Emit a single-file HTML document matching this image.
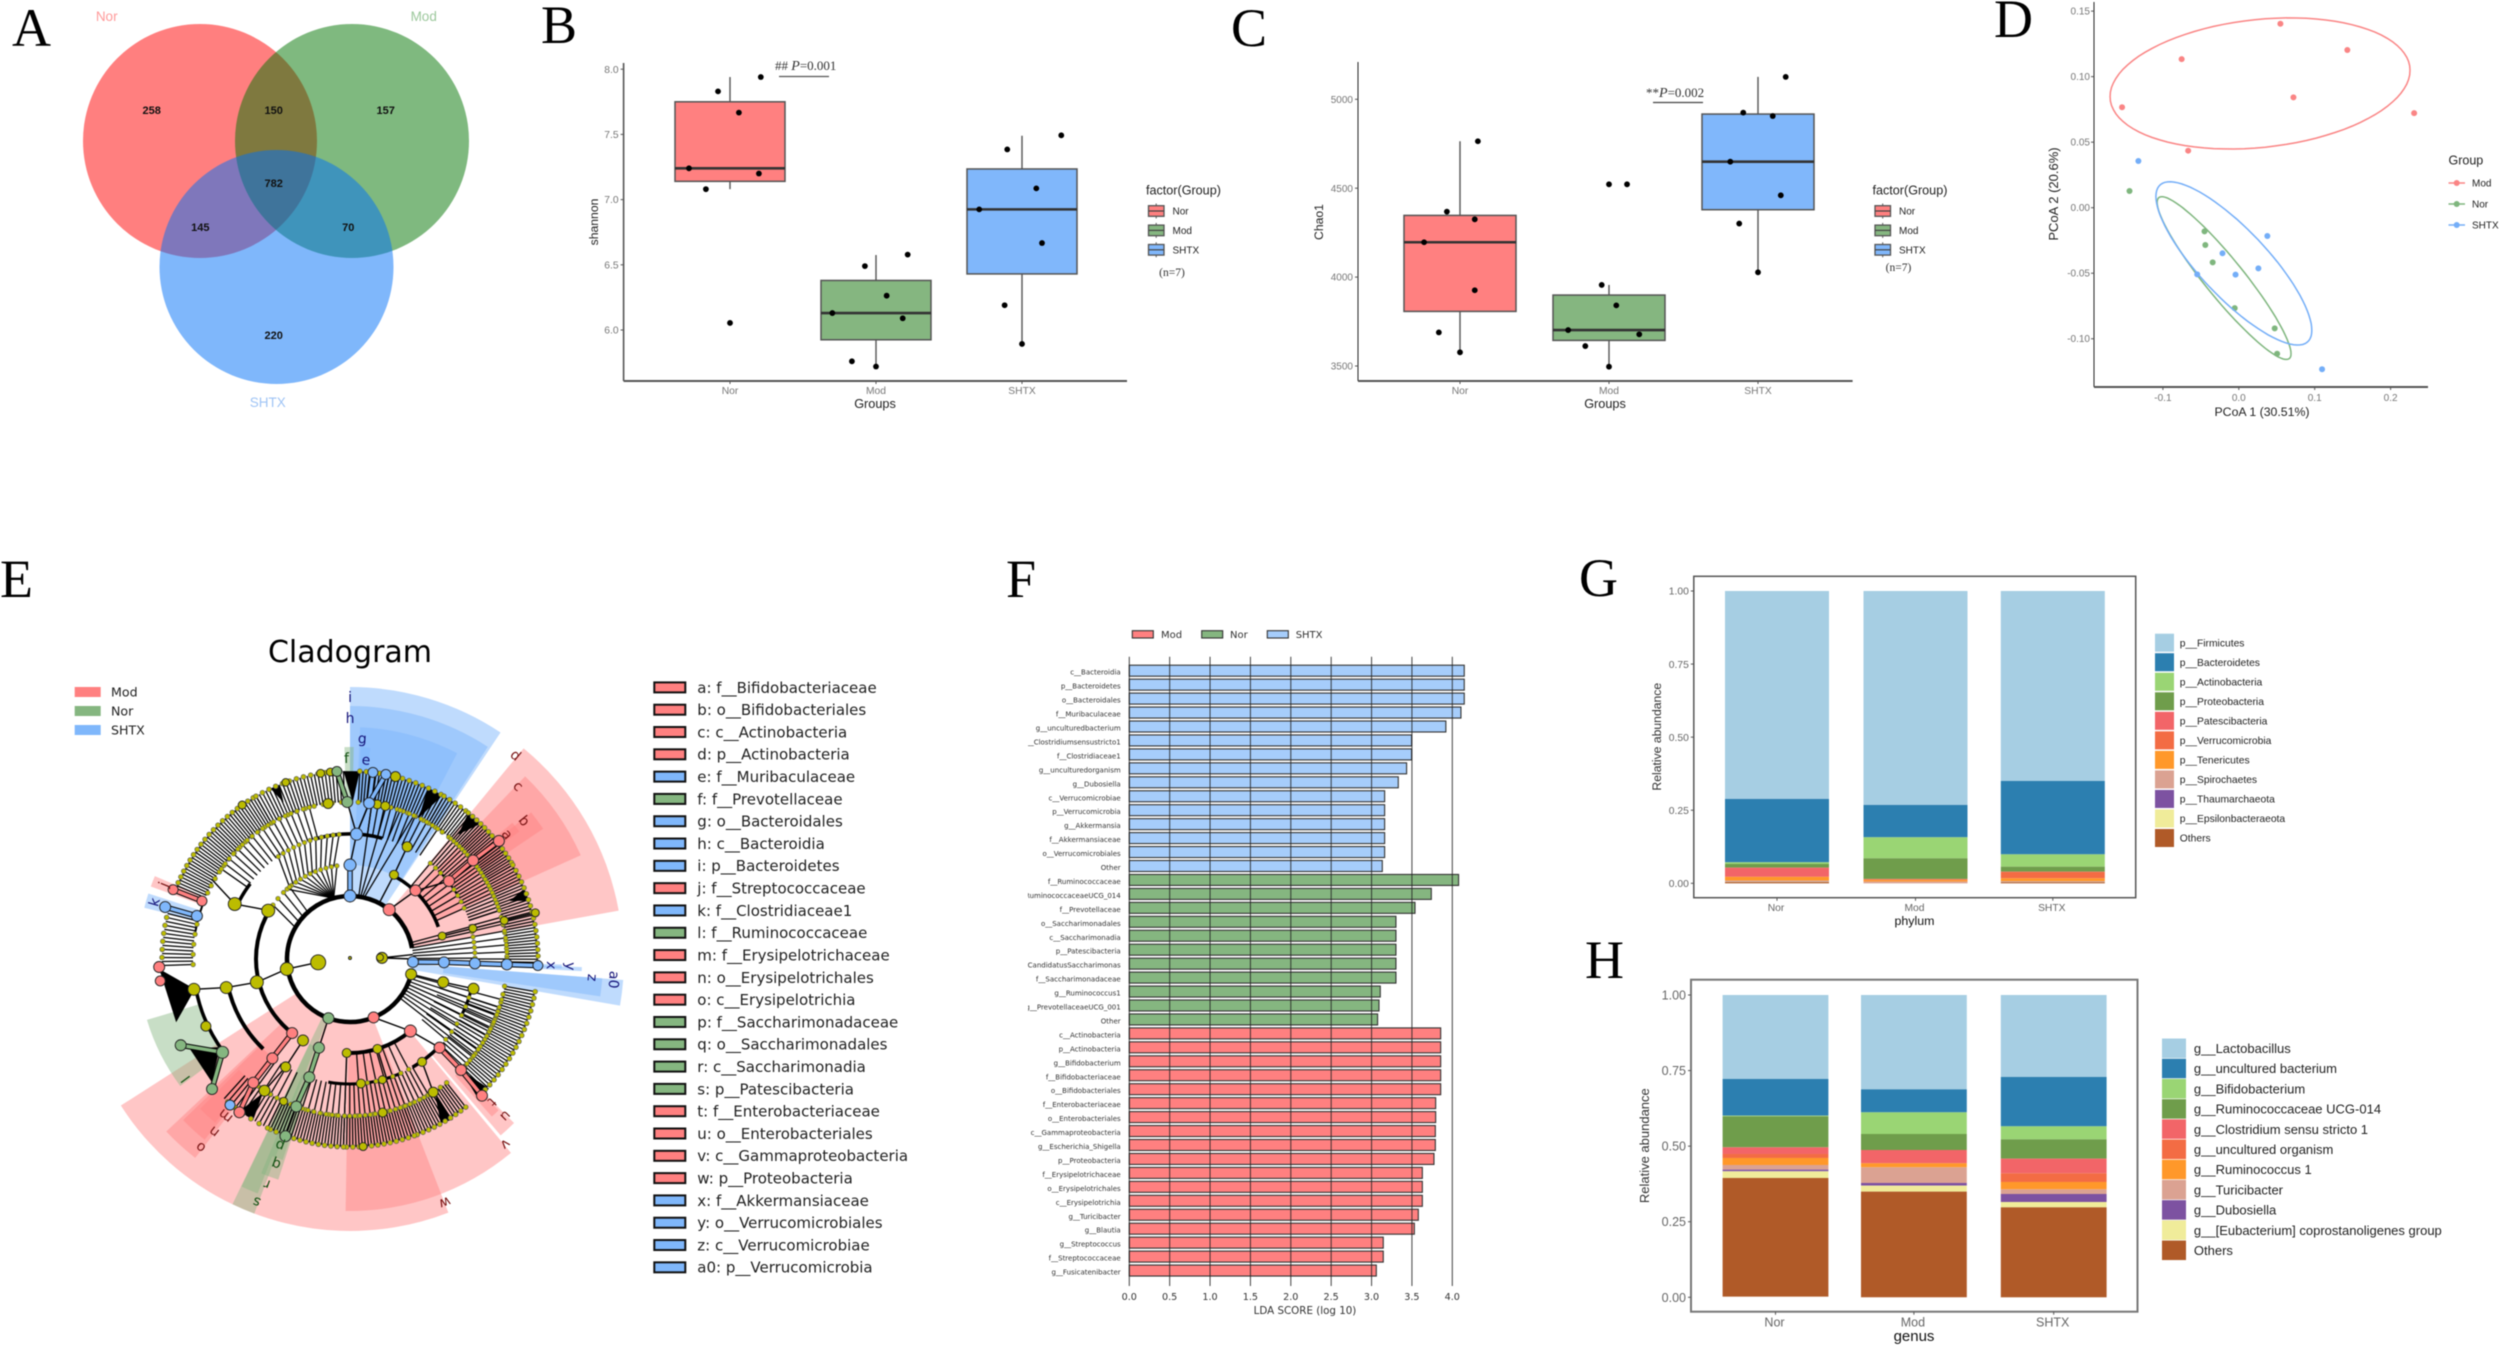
<!DOCTYPE html>
<html lang="en">
<head>
<meta charset="utf-8">
<title>Gut microbiota figure panels A-H</title>
<style>
html,body{margin:0;padding:0;background:#fff;}
body{width:2500px;height:1345px;overflow:hidden;}
svg{display:block;filter:blur(0.5px);}
.serif{font-family:"Liberation Serif",serif;}
.sans{font-family:"Liberation Sans",sans-serif;}
.dv{font-family:"DejaVu Sans",sans-serif;}
.letter{font-family:"Liberation Serif",serif;font-size:54px;fill:#000;}
</style>
</head>
<body>
<svg id="figure" xmlns="http://www.w3.org/2000/svg" width="2500" height="1345" viewBox="0 0 2500 1345">
<rect x="0" y="0" width="2500" height="1345" fill="#fff"/>

<text class="letter" x="12" y="46">A</text>
<text class="letter" x="541" y="43">B</text>
<text class="letter" x="1231" y="46">C</text>
<text class="letter" x="1994" y="37">D</text>
<text class="letter" x="0" y="597">E</text>
<text class="letter" x="1006" y="597">F</text>
<text class="letter" x="1579" y="596">G</text>
<text class="letter" x="1585" y="978">H</text>

<g>
  <circle cx="200" cy="141" r="117" fill="#ff0000" fill-opacity="0.5"/>
  <circle cx="352" cy="141" r="117" fill="#007400" fill-opacity="0.5"/>
  <circle cx="276.5" cy="267" r="117" fill="#0070f8" fill-opacity="0.5"/>
  <g class="sans" font-size="13.5" text-anchor="middle">
    <text x="106.7" y="21" fill="#ff9a9a">Nor</text>
    <text x="423.7" y="21" fill="#9cc89c">Mod</text>
    <text x="267.7" y="407" fill="#9fc4f5">SHTX</text>
  </g>
  <g class="sans" font-size="11" font-weight="bold" text-anchor="middle" fill="#111">
    <text x="151.7" y="114">258</text>
    <text x="273.7" y="114">150</text>
    <text x="385.7" y="114">157</text>
    <text x="273.7" y="187">782</text>
    <text x="200.3" y="231">145</text>
    <text x="348.3" y="231">70</text>
    <text x="273.7" y="339">220</text>
  </g>
</g>

<g id="panel-b">
  <text class="serif" x="775" y="70" font-size="13" fill="#333">## <tspan font-style="italic" font-size="14">P</tspan>=0.001</text>
  <line x1="779" x2="829" y1="76.5" y2="76.5" stroke="#555" stroke-width="1.3"/>
</g>
<g id="panel-c">
  <text class="serif" x="1646" y="97" font-size="13" fill="#333">**<tspan font-style="italic" font-size="14">P</tspan>=0.002</text>
  <line x1="1653" x2="1703" y1="102.5" y2="102.5" stroke="#444" stroke-width="1.3"/>
</g>
<g id="panel-d"></g>
<g id="panel-e"></g>
<g id="panel-e-legend"></g>
<g id="panel-f"></g>
<g id="panel-g"></g>
<g id="panel-h"></g>
</svg>

<script>
// ---------- Panel B data ----------
const groupNames = ['Nor', 'Mod', 'SHTX'];
const groupFills = ['#ff8080', '#85b680', '#80b7fb'];
const shannonTicks = [6.0, 6.5, 7.0, 7.5, 8.0];
const shannonQ1 = [7.14, 5.925, 6.43];
const shannonMedian = [7.24, 6.13, 6.925];
const shannonQ3 = [7.75, 6.38, 7.235];
const shannonLow = [7.08, 5.72, 5.89];
const shannonHigh = [7.94, 6.575, 7.49];
const shannonPointGroup = [0.719, 0.835, 0.918, 1.061, 1.198, 1.211, 1.0, 1.701, 1.835, 1.924, 2.0, 2.073, 2.183, 2.217, 2.707, 2.881, 2.899, 3.0, 3.098, 3.137, 3.269];
const shannonPointValue = [7.24, 7.08, 7.83, 7.667, 7.2, 7.94, 6.054, 6.13, 5.76, 6.49, 5.72, 6.263, 6.09, 6.578, 6.925, 6.19, 7.385, 5.893, 7.086, 6.667, 7.493];

// ---------- Panel C data ----------
const chaoTicks = [3500, 4000, 4500, 5000];
const chaoQ1 = [3807, 3644, 4379];
const chaoMedian = [4196, 3702, 4649];
const chaoQ3 = [4347, 3899, 4917];
const chaoLow = [3577, 3496, 4027];
const chaoHigh = [4764, 3956, 5126];
const chaoPointGroup = [0.759, 0.858, 0.912, 1.0, 1.099, 1.099, 1.12, 1.726, 1.841, 1.951, 2.0, 2.0, 2.049, 2.121, 2.203, 2.814, 2.874, 2.901, 3.0, 3.099, 3.153, 3.186];
const chaoPointValue = [4196, 3689, 4368, 3577, 4325, 3926, 4764, 3702, 3612, 3956, 3496, 4522, 3841, 4522, 3678, 4649, 4301, 4925, 4027, 4906, 4460, 5126];

// ---------- Panel D data ----------
const pcoaGroups = ['Mod', 'Nor', 'SHTX'];
const pcoaColors = ['#fa8585', '#7fb67e', '#74aef8'];
const pcoaXTicks = [-0.1, 0.0, 0.1, 0.2];
const pcoaYTicks = [-0.10, -0.05, 0.00, 0.05, 0.10, 0.15];
const pcoaModX = [-0.1538, -0.0753, -0.0667, 0.0548, 0.072, 0.143, 0.231];
const pcoaModY = [0.0766, 0.1134, 0.0435, 0.1404, 0.0842, 0.1203, 0.0722];
const pcoaNorX = [-0.144, -0.0452, -0.0441, -0.0344, -0.0054, 0.0473, 0.0505];
const pcoaNorY = [0.0127, -0.0181, -0.0285, -0.0417, -0.0766, -0.0921, -0.1114];
const pcoaShtxX = [-0.1323, 0.0376, -0.0215, 0.0258, -0.0043, -0.0548, 0.1097];
const pcoaShtxY = [0.0356, -0.0216, -0.0348, -0.0463, -0.0511, -0.0509, -0.1233];
const ellipseCenterX = [0.028, -0.0194, -0.0065];
const ellipseCenterY = [0.0948, -0.0537, -0.0425];
const ellipseSpreadX = [0.1976, 0.0882, 0.1027];
const ellipseSpreadY = [0.05, 0.0621, 0.0623];
const ellipseCorr = [0.2, -0.93, -0.82];

// ---------- Panel E data (angles clockwise from north, radii in ring units) ----------
const cladeSectors = [
  ['i', 63, 272, 0, 33.6, 'b'], ['h', 94, 253, 0, 33, 'b'], ['g', 125, 232, 2.5, 27.5, 'b'], ['e', 157, 212, 3, 5.5, 'b'],
  ['f', 157, 212, -1.5, 1, 'g'],
  ['d', 63, 273, 39.5, 79.8, 'r'], ['c', 94, 253, 43.8, 65.8, 'r'], ['b', 125, 233, 51, 56, 'r'], ['a', 157, 212, 50, 53, 'r'],
  ['a0', 63, 274, 94.4, 99.8, 'b'], ['z', 94, 253, 94.4, 98.5, 'b'], ['y', 125, 232, 92, 93, 'b'], ['x', 157, 212, 91.5, 92.5, 'b'],
  ['w', 63, 272, 158.8, 205.6, 'r'], ['w2', 63, 272, 205.6, 237.4, 'r'], ['v', 94, 252, 140.3, 181, 'r'],
  ['u', 126, 232, 135, 139.5, 'r'], ['t', 157, 212, 135.5, 138, 'r'],
  ['s', 63, 272, 200.6, 205.6, 'g'], ['r', 94, 252, 201.5, 205.5, 'g'], ['q', 125, 232, 198, 202.5, 'g'], ['p', 157, 212, 198.5, 201.5, 'g'],
  ['o', 94, 252, 217.9, 226.8, 'r'], ['n', 125, 232, 218.8, 226, 'r'], ['m', 157, 212, 219.5, 225, 'r'],
  ['l', 157, 212, 233.2, 253.3, 'g'], ['k', 157, 212, 284, 288, 'b'], ['j', 157, 212, 290, 293, 'r']
];
const cladeArcs = [
  [63, 104, 440, 4.5], [94, 218, 301, 4], [94, 25, 70, 3.5], [94, 140, 182, 4],
  [125, 224, 258, 4], [125, 295, 307, 3.5], [125, 345, 375, 3.5], [125, 103, 118, 3], [125, 135, 150, 3.5], [125, 155, 190, 3], [125, 45, 60, 2],
  [157, 233, 259, 3.5], [157, 48, 55, 2], [157, 280, 293, 2]
];
const cladeFans = [
  [157,188,3,12,3,12,10],[157,188,12,30,12,30,18],[157,188,30,38,30,38,9],[157,188,39,60,39,60,26],[157,188,60,92,60,92,34],
  [157,188,100,135,100,135,36],[157,188,142,160,142,160,20],[157,188,160,182,160,182,24],[157,188,182,206,182,206,26],[157,188,206,222,206,222,12],
  [157,188,268,284,268,284,14],[157,188,292,330,292,330,40],[157,188,330,358,330,358,26],
  [125,157,305,345,305,345,18],[125,157,8,34,8,34,12],[125,157,40,72,40,72,24],[125,157,72,90,72,90,8],[125,157,108,135,108,135,18],
  [125,157,150,182,150,182,18],[125,157,182,200,182,200,9],[125,157,205,216,205,216,5],
  [94,125,320,350,325,355,12],[94,125,40,66,40,66,9],[94,125,152,176,152,176,7],[94,125,108,130,108,130,6],
  [63,94,345,345,318,352,11],[63,157,8,13,8,24,4],[63,125,75,92,75,92,8],[63,157,105,128,105,128,9],[63,94,300,318,305,320,4]
];
const cladeWedges = [
  [[191,267],[158,259],[185,250]], [[183.6,240.6],[157,235.9],[185,228.3]], [[157,26],[188,24.5],[188,29.5]],
  [[161,148],[191,147.4],[187,151]], [[157,135],[190,133],[190,137.5]], [[160,213],[188,211],[188,216]],
  [[157,1],[188,-2],[188,3]], [[170,337],[188,335],[188,338]], [[170,70],[188,68],[188,72]], [[165,41],[188,39],[188,44]]
];
const cladeLinks = [
  [32,264,64,261,'k'],[64,261,96,256,'k'],[96,256,127,257,'k'],[127,257,159,259,'k'],[96,300.6,127.7,295.5,'k'],[127.7,295.5,160,300,'k'],
  [32,88,63,86,'k'],[32,88,63,90,'k'],[95,76,191,76,'k'],[63,27.6,95,27.6,'k'],[95,27.6,126,27,'k'],[125,3,157,7,'k'],
  [63,104,96,104,'k'],[96,104,127,103.5,'k'],[94,182,125,182,'k'],[94,163,125,163,'k'],[94,210,125.6,210.8,'k'],[125.6,210.8,157,213,'k'],
  [125.6,145,157,148,'k'],[63,0,94,0,'b'],[94,0,125,3,'k'],[125,3,157,7,'k'],[157,7,188,7,'b'],[157,7,188,11,'b'],[157,-1,188,-4,'g'],[125,3,157,-1,'k'],
  [63,38.5,94,43.7,'k'],[94,43.7,126,51.8,'k'],[126,51.8,157,51.3,'r'],[157,51.3,190,51.6,'r'],
  [63,92.7,94,92,'b'],[94,92,125,92,'b'],[125,92,157,92,'b'],[157,92,188,92,'b'],
  [159,285.7,192,285.7,'b'],[159,291.4,190,291.4,'r'],
  [158,233.8,190,243,'g'],[158,233.8,189.6,226.7,'g'],[94,218,126,218,'r'],[126,218,157,218,'r'],[157,218,189,215.8,'r'],
  [63,200,94,199.3,'k'],[94,199.3,125,199,'g'],[125,199,157,200,'g'],[157,200,188.6,200,'k'],
  [63,158,94,140,'k'],[94,140,126,134.7,'k'],[126,134.7,157,135,'r'],[157,135,190,136,'r']
];
const cladeNodes = [
  [1,0,1.5,'o'],[32,264,7.5,'o'],[64,261,6.5,'o'],[96,256,6.5,'o'],[127,257,6,'o'],[159,259,6,'o'],[127.7,295.5,6.5,'o'],[95,300.6,6.5,'o'],
  [32,88,5.5,'o'],[30,87,3.5,'o'],[63,104,5.5,'o'],[96,104,5.5,'o'],[127,103.5,5.5,'o'],[126,27,5,'o'],[95,27.6,4.5,'o'],
  [94,182,4.5,'o'],[94,163,4.5,'o'],[94,210,5.5,'o'],[125.6,210.8,5,'o'],[157,213,5.5,'o'],[125.6,145,4.5,'o'],[157,148,5,'o'],[159,245,5,'o'],
  [95,76,4,'o'],[126.6,76,4,'o'],[159,76,4,'o'],[191,76,4,'o'],[188,14,5,'o'],[188,-6,4,'o'],[188,-9,4,'o'],[157,-8,5,'o'],[157,10,4.5,'o'],[157,13,4.5,'o'],
  [188,340,3.8,'o'],[188,325,4,'o'],[157,205,4,'o'],[188,176,4,'o'],[157,168,4.5,'o'],[125,175,4.5,'o'],[125,165,4,'o'],
  [63,0,6,'b'],[94,0,6,'b'],[125,3,6,'b'],[157,7,5.5,'b'],[188,7,5,'b'],[188,11,5,'b'],
  [157,-1,5.5,'g'],[188,-4,5,'g'],
  [63,38.5,6,'r'],[94.8,43.7,5.5,'r'],[126,51.8,5.5,'r'],[157.7,51.3,5.5,'r'],[190,51.6,5.5,'r'],
  [63,92.7,5.5,'b'],[94,92,5.5,'b'],[125,92,5.5,'b'],[157,92,5.5,'b'],[188,92,5,'b'],
  [159,285.7,5.5,'b'],[192,285.7,5.5,'b'],[159,291.4,5,'r'],[190,291.4,5,'r'],
  [191,267.6,5.5,'r'],[191,263.4,5,'r'],
  [158,233.8,6,'g'],[190,243,5.5,'g'],[189.6,226.7,5.5,'g'],
  [94,218,5.5,'r'],[126,218,5.5,'r'],[157,218,5.5,'r'],[189,215.8,5.5,'r'],[189,219.4,5,'b'],
  [63,200,5.5,'g'],[94,199.3,5.5,'g'],[125,199,5.5,'g'],[157,200,5.5,'g'],[188.6,200,5.5,'g'],
  [63,158,5.5,'r'],[94,140,6,'r'],[126,134.7,5.5,'r'],[157,135,5.5,'r'],[190,136,5.5,'r']
];
const cladeLetters = [
  ['i',261,0,'b'],['h',240,0,'b'],['g',220,3.2,'b'],['e',199,4.6,'b'],['f',200,-1,'g'],['d',262,39.1,'r'],['c',240.6,44.2,'r'],['b',221.7,51.6,'r'],['a',200,51.6,'r'],
  ['j',200,291.8,'r'],['k',203,286.2,'b'],['l',202.7,233.8,'g'],['m',200,218.4,'r'],['n',219.5,218.2,'r'],['o',240,218.4,'r'],
  ['p',198.7,200.6,'g'],['q',217.8,199.8,'g'],['r',239.7,200.2,'g'],['s',260,201,'g'],['t',201,135.2,'r'],['u',220.8,135.3,'r'],['v',241.5,140,'r'],['w',261,158.7,'r'],
  ['x',201,91.8,'b'],['y',220,91.9,'b'],['z',242.5,94.4,'b'],['a0',264,94.5,'b']
];
const cladeLegendNames = ['Mod', 'Nor', 'SHTX'];
const taxaNames = ['a: f__Bifidobacteriaceae','b: o__Bifidobacteriales','c: c__Actinobacteria','d: p__Actinobacteria','e: f__Muribaculaceae','f: f__Prevotellaceae','g: o__Bacteroidales','h: c__Bacteroidia','i: p__Bacteroidetes','j: f__Streptococcaceae','k: f__Clostridiaceae1','l: f__Ruminococcaceae','m: f__Erysipelotrichaceae','n: o__Erysipelotrichales','o: c__Erysipelotrichia','p: f__Saccharimonadaceae','q: o__Saccharimonadales','r: c__Saccharimonadia','s: p__Patescibacteria','t: f__Enterobacteriaceae','u: o__Enterobacteriales','v: c__Gammaproteobacteria','w: p__Proteobacteria','x: f__Akkermansiaceae','y: o__Verrucomicrobiales','z: c__Verrucomicrobiae','a0: p__Verrucomicrobia'];
const taxaGroups = ['r','r','r','r','b','g','b','b','b','r','b','g','r','r','r','g','g','g','g','r','r','r','r','b','b','b','b'];

// ---------- Panel F data ----------
const ldaTicks = [0, 0.5, 1.0, 1.5, 2.0, 2.5, 3.0, 3.5, 4.0];
const ldaLegend = ['Mod', 'Nor', 'SHTX'];
const ldaNames = ['c__Bacteroidia','p__Bacteroidetes','o__Bacteroidales','f__Muribaculaceae','g__unculturedbacterium','g__Clostridiumsensustricto1','f__Clostridiaceae1','g__unculturedorganism','g__Dubosiella','c__Verrucomicrobiae','p__Verrucomicrobia','g__Akkermansia','f__Akkermansiaceae','o__Verrucomicrobiales','Other',
'f__Ruminococcaceae','g__RuminococcaceaeUCG_014','f__Prevotellaceae','o__Saccharimonadales','c__Saccharimonadia','p__Patescibacteria','g__CandidatusSaccharimonas','f__Saccharimonadaceae','g__Ruminococcus1','g__PrevotellaceaeUCG_001','Other',
'c__Actinobacteria','p__Actinobacteria','g__Bifidobacterium','f__Bifidobacteriaceae','o__Bifidobacteriales','f__Enterobacteriaceae','o__Enterobacteriales','c__Gammaproteobacteria','g__Escherichia_Shigella','p__Proteobacteria','f__Erysipelotrichaceae','o__Erysipelotrichales','c__Erysipelotrichia','g__Turicibacter','g__Blautia','g__Streptococcus','f__Streptococcaceae','g__Fusicatenibacter'];
const ldaValues = [4.148,4.148,4.148,4.107,3.92,3.496,3.496,3.434,3.331,3.162,3.162,3.162,3.162,3.162,3.133,
4.078,3.74,3.538,3.302,3.302,3.302,3.302,3.302,3.108,3.092,3.075,
3.856,3.856,3.856,3.856,3.856,3.794,3.794,3.79,3.79,3.773,3.629,3.629,3.629,3.579,3.53,3.145,3.145,3.059];
const ldaGroups = ['b','b','b','b','b','b','b','b','b','b','b','b','b','b','b','g','g','g','g','g','g','g','g','g','g','g','r','r','r','r','r','r','r','r','r','r','r','r','r','r','r','r','r','r'];

// ---------- Panels G / H data ----------
const stackColors = ['#a6cee3','#2c7fb0','#9ad574','#6f9d4b','#f26568','#f36c44','#ff982a','#dba292','#7d52a1','#f0ec9a','#b05a28'];
const abundanceTicks = [0, 0.25, 0.5, 0.75, 1.0];
const phylumNames = ['p__Firmicutes','p__Bacteroidetes','p__Actinobacteria','p__Proteobacteria','p__Patescibacteria','p__Verrucomicrobia','p__Tenericutes','p__Spirochaetes','p__Thaumarchaeota','p__Epsilonbacteraeota','Others'];
const phylumNor = [0.7115,0.2167,0.0057,0.0125,0.0308,0.001,0.0125,0.003,0.001,0.001,0.0043];
const phylumMod = [0.732,0.1106,0.0718,0.0707,0.001,0.003,0.005,0.006,0,0,0];
const phylumShtx = [0.65,0.2509,0.0422,0.0171,0.001,0.0217,0.0103,0.001,0.001,0.001,0.0038];
const genusNames = ['g__Lactobacillus','g__uncultured bacterium','g__Bifidobacterium','g__Ruminococcaceae UCG-014','g__Clostridium sensu stricto 1','g__uncultured organism','g__Ruminococcus 1','g__Turicibacter','g__Dubosiella','g__[Eubacterium] coprostanoligenes group','Others'];
const genusNor = [0.2778,0.1213,0.0022,0.1025,0.0221,0.0132,0.0232,0.0154,0.0055,0.0221,0.3925];
const genusMod = [0.312,0.0761,0.0717,0.0529,0.043,0.0011,0.0132,0.0518,0.0088,0.0198,0.3495];
const genusShtx = [0.2712,0.1632,0.043,0.0639,0.0485,0.0287,0.0243,0.0154,0.0265,0.0176,0.2977];

// ---------- Helpers ----------
const NS = 'http://www.w3.org/2000/svg';
function add(parent, tag, attrs, text) {
  const node = document.createElementNS(NS, tag);
  for (const k in attrs) node.setAttribute(k, attrs[k]);
  if (text !== undefined) node.textContent = text;
  parent.appendChild(node);
  return node;
}
const SANS = '"Liberation Sans",sans-serif';
const DEJAVU = '"DejaVu Sans",sans-serif';
const SERIF = '"Liberation Serif",serif';

// ---------- Boxplots ----------
function drawBoxPanel(g, c) {
  const xPos = v => c.x0 + (v - 1) * c.step;
  const yPos = c.y;
  let m = add(g, 'line', {x1: c.axisX, x2: c.axisX, y1: c.axisTop, y2: c.axisBottom, stroke: c.yAxisColor, 'stroke-width': c.yAxisWidth});
  
  
  m = add(g, 'line', {x1: c.axisX, x2: c.axisRight, y1: c.axisBottom, y2: c.axisBottom, stroke: '#555', 'stroke-width': 2});
  
  
  c.ticks.forEach(t => {
    const ty = yPos(t);
    const tk = add(g, 'line', {x1: c.axisX - 3, x2: c.axisX, y1: ty, y2: ty, stroke: '#555', 'stroke-width': 1});
    
    
    const lb = add(g, 'text', {x: c.axisX - 5, y: ty + 3.6, 'text-anchor': 'end', 'font-family': SANS, 'font-size': c.tickSize, fill: '#777'}, c.format(t));
    
    
  });
  groupNames.forEach((name, i) => {
    const cx = xPos(i + 1);
    const wk = add(g, 'line', {x1: cx, x2: cx, y1: yPos(c.high[i]), y2: yPos(c.low[i]), stroke: '#555', 'stroke-width': 1.4});
    
    
    const box = add(g, 'rect', {x: cx - c.half, y: yPos(c.q3[i]), width: 2 * c.half, height: yPos(c.q1[i]) - yPos(c.q3[i]), fill: groupFills[i], stroke: '#555', 'stroke-width': 1.5});
    
    
    const md = add(g, 'line', {x1: cx - c.half, x2: cx + c.half, y1: yPos(c.median[i]), y2: yPos(c.median[i]), stroke: '#333', 'stroke-width': 2.6});
    
    
    const tk = add(g, 'line', {x1: cx, x2: cx, y1: c.axisBottom, y2: c.axisBottom + 3, stroke: '#555', 'stroke-width': 1});
    
    
    const lb = add(g, 'text', {x: cx, y: c.axisBottom + 13, 'text-anchor': 'middle', 'font-family': SANS, 'font-size': 10.3, fill: '#777'}, name);
    
    
  });
  c.pointGroup.forEach((pg, i) => {
    const p = add(g, 'circle', {cx: xPos(pg), cy: yPos(c.pointValue[i]), r: 2.9, fill: '#000'});
    
    
  });
  let t = add(g, 'text', {x: c.xTitleX, y: 408, 'text-anchor': 'middle', 'font-family': SANS, 'font-size': 12.7, fill: '#222'}, 'Groups');
  
  
  t = add(g, 'text', {x: 0, y: 0, transform: 'translate(' + c.yTitleX + ',' + c.yTitleY + ') rotate(-90)', 'text-anchor': 'middle', 'font-family': SANS, 'font-size': 12.2, fill: '#222'}, c.yTitle);
  
  
  t = add(g, 'text', {x: c.legendX - 2.5, y: 194.5, 'font-family': SANS, 'font-size': 12.6, fill: '#222'}, 'factor(Group)');
  
  
  groupNames.forEach((name, i) => {
    const ky = 211 + i * 19.4;
    const st = add(g, 'line', {x1: c.legendX + 7.7, x2: c.legendX + 7.7, y1: ky - 7.5, y2: ky + 7.5, stroke: '#555', 'stroke-width': 1});
    
    
    const kb = add(g, 'rect', {x: c.legendX, y: ky - 5.3, width: 15.5, height: 10.6, fill: groupFills[i], stroke: '#555', 'stroke-width': 1.3});
    
    
    const kl = add(g, 'line', {x1: c.legendX, x2: c.legendX + 15.5, y1: ky, y2: ky, stroke: '#444', 'stroke-width': 1.2});
    
    
    const lt = add(g, 'text', {x: c.legendX + 24, y: ky + 3.6, 'font-family': SANS, 'font-size': 10, fill: '#222'}, name);
    
    
  });
  t = add(g, 'text', {x: c.legendX + 23.5, y: c.nY, 'text-anchor': 'middle', 'font-family': SERIF, 'font-size': 11.5, fill: '#333'}, '(n=7)');
  
  
}
const shannonY = v => 330 - (v - 6) * 130.4;
const chaoY = v => 366 - (v - 3500) * 0.1778;
drawBoxPanel(document.getElementById('panel-b'), {id: 'shannon', x0: 730, step: 146, half: 55, y: shannonY, ticks: shannonTicks, format: v => v.toFixed(1), tickSize: 10.3,
  axisX: 623.6, axisTop: 63, axisBottom: 381, axisRight: 1127, yAxisColor: '#555', yAxisWidth: 1.6,
  q1: shannonQ1, median: shannonMedian, q3: shannonQ3, low: shannonLow, high: shannonHigh, pointGroup: shannonPointGroup, pointValue: shannonPointValue,
  xTitleX: 875, yTitleX: 598, yTitleY: 222, yTitle: 'shannon', legendX: 1148.5, nY: 276});
drawBoxPanel(document.getElementById('panel-c'), {id: 'chao1', x0: 1460, step: 149, half: 56, y: chaoY, ticks: chaoTicks, format: v => String(v), tickSize: 10,
  axisX: 1358, axisTop: 62, axisBottom: 381, axisRight: 1852.6, yAxisColor: '#222', yAxisWidth: 1,
  q1: chaoQ1, median: chaoMedian, q3: chaoQ3, low: chaoLow, high: chaoHigh, pointGroup: chaoPointGroup, pointValue: chaoPointValue,
  xTitleX: 1605, yTitleX: 1323, yTitleY: 222, yTitle: 'Chao1', legendX: 1875, nY: 271});

// ---------- PCoA ----------
(function () {
  const g = document.getElementById('panel-d');
  const px = v => 2238.8 + v * 759;
  const py = v => 207.7 - v * 1310.6;
  let m = add(g, 'line', {x1: 2094, x2: 2094, y1: 2, y2: 387, stroke: '#222', 'stroke-width': 1});
  
  
  m = add(g, 'line', {x1: 2094, x2: 2428, y1: 387, y2: 387, stroke: '#555', 'stroke-width': 2});
  
  
  pcoaYTicks.forEach(t => {
    const tk = add(g, 'line', {x1: 2091, x2: 2094, y1: py(t), y2: py(t), stroke: '#555', 'stroke-width': 1});
    
    
    const lb = add(g, 'text', {x: 2090, y: py(t) + 3.4, 'text-anchor': 'end', 'font-family': SANS, 'font-size': 10, fill: '#777'}, t.toFixed(2));
    
    
  });
  pcoaXTicks.forEach(t => {
    const tk = add(g, 'line', {x1: px(t), x2: px(t), y1: 387, y2: 390, stroke: '#555', 'stroke-width': 1});
    
    
    const lb = add(g, 'text', {x: px(t), y: 401, 'text-anchor': 'middle', 'font-family': SANS, 'font-size': 10, fill: '#777'}, t.toFixed(1));
    
    
  });
  const xs = [pcoaModX, pcoaNorX, pcoaShtxX];
  const ys = [pcoaModY, pcoaNorY, pcoaShtxY];
  pcoaGroups.forEach((name, i) => {
    let d = '';
    for (let k = 0; k <= 90; k++) {
      const a = k / 90 * 2 * Math.PI;
      const ex = ellipseCenterX[i] + ellipseSpreadX[i] * Math.cos(a);
      const ey = ellipseCenterY[i] + ellipseSpreadY[i] * (ellipseCorr[i] * Math.cos(a) + Math.sqrt(1 - ellipseCorr[i] * ellipseCorr[i]) * Math.sin(a));
      d += (k ? 'L' : 'M') + px(ex).toFixed(1) + ' ' + py(ey).toFixed(1);
    }
    const e = add(g, 'path', {d: d + 'Z', fill: 'none', stroke: pcoaColors[i], 'stroke-width': 1.5});
    
    
    xs[i].forEach((x, j) => {
      const p = add(g, 'circle', {cx: px(x), cy: py(ys[i][j]), r: 3, fill: pcoaColors[i]});
      
      
    });
    const ky = 183 + i * 21;
    const ll = add(g, 'line', {x1: 2448.5, x2: 2465, y1: ky, y2: ky, stroke: pcoaColors[i], 'stroke-width': 1.5});
    
    
    const lp = add(g, 'circle', {cx: 2456.7, cy: ky, r: 3, fill: pcoaColors[i]});
    
    
    const lt = add(g, 'text', {x: 2472, y: ky + 3.6, 'font-family': SANS, 'font-size': 10, fill: '#222'}, name);
    
    
  });
  let t = add(g, 'text', {x: 2448.5, y: 164.5, 'font-family': SANS, 'font-size': 12.5, fill: '#222'}, 'Group');
  
  
  t = add(g, 'text', {x: 2262, y: 416, 'text-anchor': 'middle', 'font-family': SANS, 'font-size': 12.3, fill: '#222'}, 'PCoA 1 (30.51%)');
  
  
  t = add(g, 'text', {transform: 'translate(2058,194) rotate(-90)', 'text-anchor': 'middle', 'font-family': SANS, 'font-size': 13, fill: '#222'}, 'PCoA 2 (20.6%)');
  
  
})();

// ---------- Cladogram ----------
(function () {
  const g = document.getElementById('panel-e');
  const CX = 350, CY = 959;
  const polar = (r, a) => {
    const t = a * Math.PI / 180;
    return [CX + r * Math.sin(t), CY - r * Math.cos(t)];
  };
  const fills = {r: '#ff8080', g: '#85b680', b: '#7fb7fb', o: '#bcbc00', k: '#000'};
  const textColors = {r: '#7a1414', g: '#145214', b: '#14147a'};
  const arcPath = (r, a0, a1) => {
    const p0 = polar(r, a0), p1 = polar(r, a1);
    return 'M' + p0 + 'A' + r + ' ' + r + ' 0 ' + (a1 - a0 > 180 ? 1 : 0) + ' 1 ' + p1;
  };
  let t = add(g, 'text', {x: 350, y: 662, 'text-anchor': 'middle', 'font-family': DEJAVU, 'font-size': 30, fill: '#000'}, 'Cladogram');
  
  
  ['r', 'g', 'b'].forEach((k, i) => {
    const y = 692 + i * 19;
    const key = add(g, 'rect', {x: 74.7, y: y - 5, width: 26, height: 10, fill: fills[k]});
    
    
    const lb = add(g, 'text', {x: 111, y: y + 4.6, 'font-family': DEJAVU, 'font-size': 12.6, fill: '#222'}, cladeLegendNames[i]);
    
    
  });
  cladeSectors.forEach(s => {
    const p0 = polar(s[1], s[3]), p1 = polar(s[2], s[3]), p2 = polar(s[2], s[4]), p3 = polar(s[1], s[4]);
    const big = s[4] - s[3] > 180 ? 1 : 0;
    const d = 'M' + p0 + 'L' + p1 + 'A' + s[2] + ' ' + s[2] + ' 0 ' + big + ' 1 ' + p2 + 'L' + p3 + 'A' + s[1] + ' ' + s[1] + ' 0 ' + big + ' 0 ' + p0 + 'Z';
    const sec = add(g, 'path', {d: d, fill: fills[s[5]], 'fill-opacity': s[5] === 'b' ? 0.5 : 0.45});
    
    
  });
  cladeFans.forEach(f => {
    for (let i = 0; i < f[6]; i++) {
      const k = f[6] > 1 ? i / (f[6] - 1) : 0.5;
      const p0 = polar(f[0], f[2] + (f[3] - f[2]) * k), p1 = polar(f[1], f[4] + (f[5] - f[4]) * k);
      const b = add(g, 'line', {x1: p0[0], y1: p0[1], x2: p1[0], y2: p1[1], stroke: '#000', 'stroke-width': 1.25});
      
      
    }
  });
  cladeWedges.forEach(w => {
    const pts = w.map(q => polar(q[0], q[1]).join(',')).join(' ');
    const b = add(g, 'polygon', {points: pts, fill: '#000'});
    
    
  });
  cladeArcs.forEach(a => {
    const b = add(g, 'path', {d: arcPath(a[0], a[1], a[2]), fill: 'none', stroke: '#000', 'stroke-width': a[3]});
    
    
  });
  cladeLinks.forEach(l => {
    const p0 = polar(l[0], l[1]), p1 = polar(l[2], l[3]);
    if (l[4] !== 'k') {
      const o = add(g, 'line', {x1: p0[0], y1: p0[1], x2: p1[0], y2: p1[1], stroke: '#000', 'stroke-width': 5.5});
      
      
    }
    const b = add(g, 'line', {x1: p0[0], y1: p0[1], x2: p1[0], y2: p1[1], stroke: l[4] === 'k' ? '#000' : fills[l[4]], 'stroke-width': l[4] === 'k' ? 1.4 : 3.5});
    
    
  });
  cladeFans.forEach(f => {
    for (let i = 0; i < f[6]; i++) {
      const k = f[6] > 1 ? i / (f[6] - 1) : 0.5;
      const a = f[4] + (f[5] - f[4]) * k;
      if (f[1] === 188 && i % 3 === 0) {
        const q = polar(157, a);
        const inner = add(g, 'circle', {cx: q[0], cy: q[1], r: 2.3, fill: fills.o, stroke: '#555', 'stroke-width': 0.6});
        
        
      }
      if (f[1] === 188 && i % 2 === 1) continue;
      const p1 = polar(f[1], a);
      const d = add(g, 'circle', {cx: p1[0], cy: p1[1], r: f[1] === 188 ? 2.4 : 2.2, fill: fills.o, stroke: '#555', 'stroke-width': 0.6});
      
      
    }
  });
  cladeNodes.forEach(n => {
    const p = polar(n[0], n[1]);
    const d = add(g, 'circle', {cx: p[0], cy: p[1], r: n[2], fill: fills[n[3]], stroke: '#222', 'stroke-width': 0.9});
    
    
  });
  cladeLetters.forEach(l => {
    const p = polar(l[1], l[2]);
    const b = add(g, 'text', {transform: 'translate(' + p[0].toFixed(1) + ',' + p[1].toFixed(1) + ') rotate(' + l[2] + ')', 'text-anchor': 'middle', 'dominant-baseline': 'central', 'font-family': DEJAVU, 'font-size': 14, fill: textColors[l[3]]}, l[0]);
    
    
  });

  const lg = document.getElementById('panel-e-legend');
  taxaNames.forEach((name, i) => {
    const y = 687.4 + i * 22.305;
    const key = add(lg, 'rect', {x: 654.3, y: y - 5, width: 31, height: 10, fill: fills[taxaGroups[i]], stroke: '#111', 'stroke-width': 2});
    
    
    const lb = add(lg, 'text', {x: 697.3, y: y + 5.4, 'font-family': DEJAVU, 'font-size': 15, fill: '#222'}, name);
    
    
  });
})();

// ---------- LDA ----------
(function () {
  const g = document.getElementById('panel-f');
  const fills = {r: '#ff8080', g: '#85b680', b: '#a6cdfb'};
  const order = ['r', 'g', 'b'];
  const x = v => 1129.3 + v * 80.75;
  const y = i => 670.7 + i * 13.95;
  const clip = add(g, 'clipPath', {id: 'lda-label-clip'});
  add(clip, 'rect', {x: 1028, y: 650, width: 100, height: 640});
  const labels = add(g, 'g', {'clip-path': 'url(#lda-label-clip)'});
  
  
  ldaNames.forEach((name, i) => {
    const b = add(g, 'rect', {x: x(0), y: y(i) - 5.5, width: x(ldaValues[i]) - x(0), height: 11, fill: fills[ldaGroups[i]], stroke: '#333', 'stroke-width': 1.1});
    
    
    const t = add(labels, 'text', {x: 1120.7, y: y(i) + 4, 'text-anchor': 'end', 'font-family': DEJAVU, 'font-size': 7, fill: '#333'}, name);
    
    
  });
  ldaTicks.forEach(t => {
    const l = add(g, 'line', {x1: x(t), x2: x(t), y1: 656.7, y2: 1286, stroke: '#222', 'stroke-opacity': 0.85, 'stroke-width': 1});
    
    
    const b = add(g, 'text', {x: x(t), y: 1300, 'text-anchor': 'middle', 'font-family': DEJAVU, 'font-size': 9.6, fill: '#333'}, t.toFixed(1));
    
    
  });
  const keyX = [1132.3, 1201.7, 1267.3];
  const labX = [1161, 1230, 1295.7];
  ldaLegend.forEach((name, i) => {
    const k = add(g, 'rect', {x: keyX[i], y: 630.7, width: 21, height: 7.3, fill: fills[order[i]], stroke: '#333', 'stroke-width': 1.1});
    
    
    const l = add(g, 'text', {x: labX[i], y: 638, 'font-family': DEJAVU, 'font-size': 10, fill: '#333'}, name);
    
    
  });
  const t = add(g, 'text', {x: 1305, y: 1314, 'text-anchor': 'middle', 'font-family': DEJAVU, 'font-size': 10.3, fill: '#333'}, 'LDA SCORE (log 10)');
  
  
})();

// ---------- Stacked bars ----------
function drawStack(g, c) {
  const y = v => c.y0 - v * c.unit;
  let m = add(g, 'rect', {x: c.left, y: c.top, width: c.right - c.left, height: c.bottom - c.top, fill: '#fff', stroke: c.frame, 'stroke-width': c.frameWidth});
  
  
  abundanceTicks.forEach(t => {
    const tk = add(g, 'line', {x1: c.left - 3, x2: c.left, y1: y(t), y2: y(t), stroke: '#555', 'stroke-width': 1});
    
    
    const lb = add(g, 'text', {x: c.left - 5, y: y(t) + c.tick * 0.36, 'text-anchor': 'end', 'font-family': SANS, 'font-size': c.tick, fill: '#666'}, t.toFixed(2));
    
    
  });
  groupNames.forEach((name, i) => {
    let cum = 0;
    const x0 = c.barX[i];
    c.series[i].forEach((v, s) => {
      const top = y(1 - cum);
      const h = v * c.unit;
      cum += v;
      if (h <= 0) return;
      const r = add(g, 'rect', {x: x0, y: top, width: c.barW, height: h, fill: stackColors[s]});
      
      
    });
    const tk = add(g, 'line', {x1: x0 + c.barW / 2, x2: x0 + c.barW / 2, y1: c.bottom, y2: c.bottom + 3, stroke: '#555', 'stroke-width': 1});
    
    
    const lb = add(g, 'text', {x: x0 + c.barW / 2 - 1, y: c.tickY, 'text-anchor': 'middle', 'font-family': SANS, 'font-size': c.tick, fill: '#666'}, name);
    
    
  });
  c.names.forEach((name, i) => {
    const cy = c.legendY + i * c.legendStep;
    const k = add(g, 'rect', {x: c.keyX, y: cy - c.keyH / 2, width: c.keyW, height: c.keyH, fill: stackColors[i]});
    
    
    const l = add(g, 'text', {x: c.labelX, y: cy + c.legendSize * 0.36, 'font-family': SANS, 'font-size': c.legendSize, fill: '#222'}, name);
    
    
  });
  let t = add(g, 'text', {x: c.xTitleX, y: c.xTitleY, 'text-anchor': 'middle', 'font-family': SANS, 'font-size': c.xTitleSize, fill: '#111'}, c.xTitle);
  
  
  t = add(g, 'text', {transform: 'translate(' + c.yTitleX + ',' + c.yTitleY + ') rotate(-90)', 'text-anchor': 'middle', 'font-family': SANS, 'font-size': c.yTitleSize, fill: '#333'}, 'Relative abundance');
  
  
}
drawStack(document.getElementById('panel-g'), {id: 'phylum', left: 1693.8, right: 2135.7, top: 576.3, bottom: 897.7, frame: '#555', frameWidth: 1.5,
  y0: 883.3, unit: 292.3, barX: [1725, 1863.5, 2000.8], barW: 104, series: [phylumNor, phylumMod, phylumShtx], names: phylumNames,
  tick: 10.3, tickY: 911, keyX: 2155, keyW: 19, keyH: 18, labelX: 2179.8, legendY: 642.7, legendStep: 19.53, legendSize: 10.3,
  xTitle: 'phylum', xTitleX: 1914.5, xTitleY: 925, xTitleSize: 12.4, yTitleX: 1661, yTitleY: 736.7, yTitleSize: 12.2});
drawStack(document.getElementById('panel-h'), {id: 'genus', left: 1691, right: 2137.5, top: 979.7, bottom: 1311.7, frame: '#777', frameWidth: 2,
  y0: 1297.3, unit: 302.3, barX: [1722.6, 1861, 2000.8], barW: 105.8, series: [genusNor, genusMod, genusShtx], names: genusNames,
  tick: 12.5, tickY: 1326.5, keyX: 2162, keyW: 24, keyH: 19.5, labelX: 2193.9, legendY: 1048.3, legendStep: 20.2, legendSize: 13,
  xTitle: 'genus', xTitleX: 1914, xTitleY: 1341, xTitleSize: 15, yTitleX: 1649, yTitleY: 1145.7, yTitleSize: 13});
</script>
</body>
</html>
